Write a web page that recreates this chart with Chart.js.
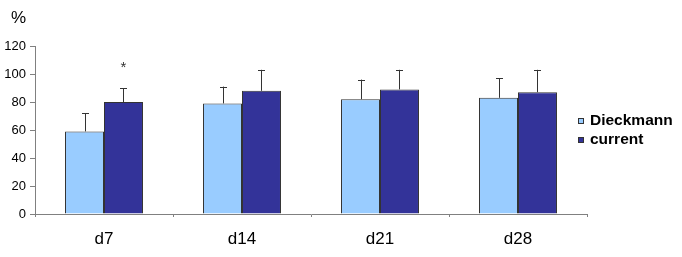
<!DOCTYPE html>
<html>
<head>
<meta charset="utf-8">
<script src="https://cdn.jsdelivr.net/npm/chart.js@4"></script>
<style>
  body { margin: 0; background: #fff; }
  canvas { display: block; }
</style>
</head>
<body>
<canvas id="chartCanvas" width="682" height="257"></canvas>
<script>
const days = ["d7", "d14", "d21", "d28"];
const dieckmann = [59, 79, 82, 83];
const dieckmannSd = [13, 12, 14, 14];
const current = [80, 88, 89, 87];
const currentSd = [10, 15, 14, 16];
const yTicks = [0, 20, 40, 60, 80, 100, 120];

const axisColor = "#808080";

const errorBars = {
    id: "errorBars",
    afterDatasetsDraw(chart) {
        const ctx = chart.ctx;
        const y = chart.scales.y;
        chart.data.datasets.forEach((ds, i) => {
            const meta = chart.getDatasetMeta(i);
            meta.data.forEach((bar, j) => {
                const top = y.getPixelForValue(ds.data[j] + ds.sd[j]);
                ctx.save();
                ctx.strokeStyle = "#333333";
                ctx.lineWidth = 1;
                ctx.beginPath();
                ctx.moveTo(Math.round(bar.x) + 0.5, bar.y);
                ctx.lineTo(Math.round(bar.x) + 0.5, top);
                ctx.moveTo(Math.round(bar.x) - 3, Math.round(top) + 0.5);
                ctx.lineTo(Math.round(bar.x) + 4, Math.round(top) + 0.5);
                ctx.stroke();
                ctx.restore();
            });
        });
    }
};

const extras = {
    id: "extras",
    afterDraw(chart) {
        const ctx = chart.ctx;
        const y = chart.scales.y;
        ctx.save();
        // unit label
        ctx.fillStyle = "#000";
        ctx.font = "17px 'Liberation Sans', Arial, sans-serif";
        ctx.textBaseline = "alphabetic";
        ctx.textAlign = "left";
        ctx.fillText("%", 11, 23);

        // significance mark over d7 current
        const bar = chart.getDatasetMeta(1).data[0];
        ctx.font = "15px 'Liberation Sans', Arial, sans-serif";
        ctx.fillStyle = "#333";
        ctx.textAlign = "center";
        ctx.fillText("*", bar.x, y.getPixelForValue(106) + 6);

        // legend
        const items = chart.data.datasets;
        ctx.font = "bold 15.5px 'Liberation Sans', Arial, sans-serif";
        ctx.textAlign = "left";
        ctx.textBaseline = "middle";
        items.forEach((ds, i) => {
            const cy = 121 + i * 19;
            ctx.fillStyle = ds.backgroundColor;
            ctx.fillRect(578, cy - 3, 6, 6);
            ctx.strokeStyle = "#333";
            ctx.lineWidth = 1;
            ctx.strokeRect(578.5, cy - 2.5, 5, 5);
            ctx.fillStyle = "#000";
            ctx.fillText(ds.label, 590, cy);
        });
        ctx.restore();
    }
};

const ctx = document.getElementById("chartCanvas").getContext("2d");

new Chart(ctx, {
    type: "bar",
    data: {
        labels: days,
        datasets: [
            {
                label: "Dieckmann",
                data: dieckmann,
                sd: dieckmannSd,
                backgroundColor: "#99CCFF",
                borderColor: "#333333",
                borderWidth: 1
            },
            {
                label: "current",
                data: current,
                sd: currentSd,
                backgroundColor: "#333399",
                borderColor: "#333333",
                borderWidth: 1
            }
        ]
    },
    options: {
        responsive: false,
        animation: false,
        layout: { padding: { left: 0, top: 46, right: 95, bottom: 0 } },
        datasets: {
            bar: { barPercentage: 1, categoryPercentage: 0.565 }
        },
        scales: {
            y: {
                min: 0,
                max: 120,
                afterFit(scale) { scale.width = 35; },
                afterBuildTicks(scale) { scale.ticks = yTicks.map(v => ({ value: v })); },
                ticks: {
                    color: "#000",
                    padding: 4,
                    font: { family: "'Liberation Sans', Arial, sans-serif", size: 13 }
                },
                grid: { drawOnChartArea: false, drawTicks: true, tickLength: 5, color: axisColor },
                border: { color: axisColor }
            },
            x: {
                afterFit(scale) { scale.height = 43; },
                ticks: {
                    color: "#000",
                    padding: 12,
                    font: { family: "'Liberation Sans', Arial, sans-serif", size: 17 }
                },
                grid: { drawOnChartArea: false, drawTicks: true, tickLength: 3, color: axisColor },
                border: { color: axisColor }
            }
        },
        plugins: {
            legend: { display: false },
            tooltip: { enabled: false }
        }
    },
    plugins: [errorBars, extras]
});
</script>
</body>
</html>
